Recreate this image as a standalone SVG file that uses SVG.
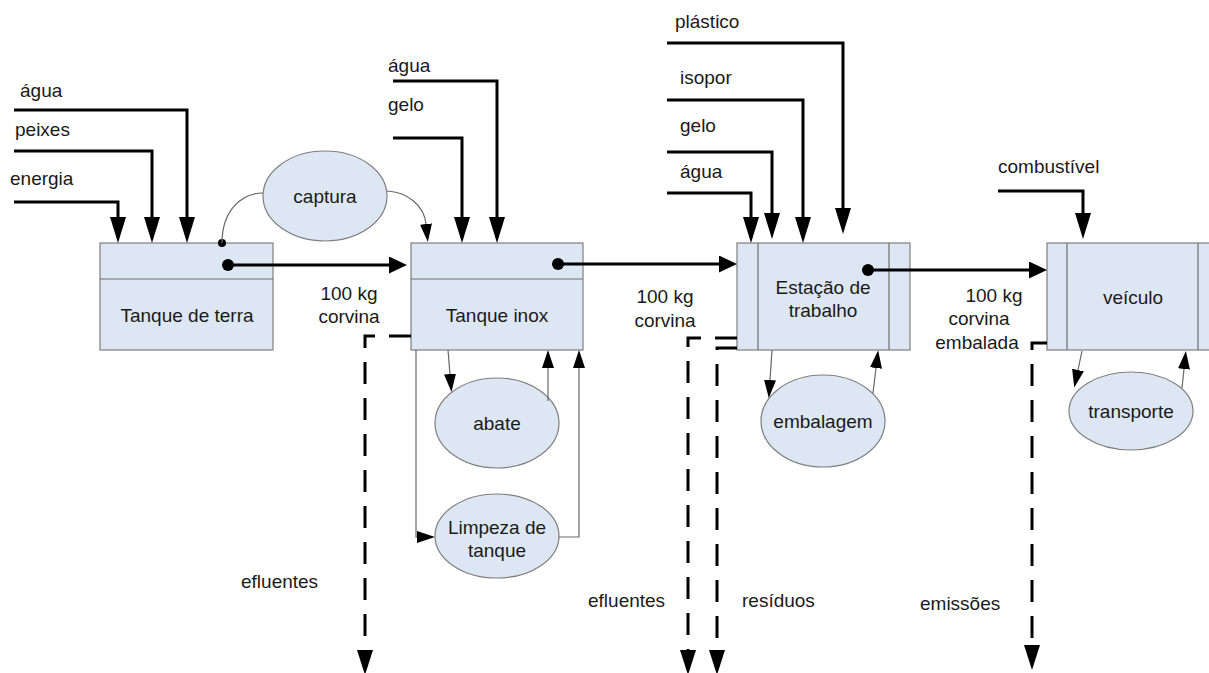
<svg xmlns="http://www.w3.org/2000/svg" width="1209" height="673" viewBox="0 0 1209 673">
  <style>
    text { font-family: "Liberation Sans", Arial, sans-serif; font-size: 19px; fill: #1a1a1a; }
    .c { text-anchor: middle; }
    .box { fill: #dde7f3; stroke: #7f7f7f; stroke-width: 1.2; }
    .div { fill: none; stroke: #6f6f6f; stroke-width: 1.2; }
    .thick { fill: none; stroke: #000; stroke-width: 3; }
    .thin { fill: none; stroke: #666; stroke-width: 1.2; }
    .dash { fill: none; stroke: #000; stroke-width: 3; stroke-dasharray: 22 14; }
    .dot { fill: #000; }
  </style>
  <defs>
    <!-- long head for the vertical input flows -->
    <marker id="inHead" markerUnits="userSpaceOnUse" viewBox="0 0 26 16" markerWidth="26" markerHeight="16" refX="0" refY="8" orient="auto">
      <path d="M0,0 L26,8 L0,16 z" fill="#000"/>
    </marker>
    <!-- head for the main product flow -->
    <marker id="flowHead" markerUnits="userSpaceOnUse" viewBox="0 0 18 17" markerWidth="18" markerHeight="17" refX="0" refY="8.5" orient="auto">
      <path d="M0,0 L18,8.5 L0,17 z" fill="#000"/>
    </marker>
    <!-- small head for the sub-process links -->
    <marker id="thinHead" markerUnits="userSpaceOnUse" viewBox="0 0 18 12" markerWidth="18" markerHeight="12" refX="0" refY="6" orient="auto">
      <path d="M0,0 L18,6 L0,12 z" fill="#000"/>
    </marker>
    <!-- head for the dashed outputs -->
    <marker id="outHead" markerUnits="userSpaceOnUse" viewBox="0 0 25 16" markerWidth="25" markerHeight="16" refX="0" refY="8" orient="auto">
      <path d="M0,0 L25,8 L0,16 z" fill="#000"/>
    </marker>
  </defs>

  <!-- processes -->
  <g id="tanque-terra">
    <rect class="box" x="100" y="243" width="173" height="107"/>
    <line class="div" x1="100" y1="279" x2="273" y2="279"/>
    <text class="c" x="187" y="322">Tanque de terra</text>
  </g>
  <g id="tanque-inox">
    <rect class="box" x="411" y="243" width="172" height="107"/>
    <line class="div" x1="411" y1="279" x2="583" y2="279"/>
    <text class="c" x="497" y="322">Tanque inox</text>
  </g>
  <g id="estacao">
    <rect class="box" x="737" y="243" width="173" height="107"/>
    <line class="div" x1="758" y1="243" x2="758" y2="350"/>
    <line class="div" x1="889" y1="243" x2="889" y2="350"/>
    <text class="c" x="823" y="294">Estação de</text>
    <text class="c" x="823" y="317">trabalho</text>
  </g>
  <g id="veiculo">
    <rect class="box" x="1047" y="243" width="173" height="107"/>
    <line class="div" x1="1067" y1="243" x2="1067" y2="350"/>
    <line class="div" x1="1198" y1="243" x2="1198" y2="350"/>
    <text class="c" x="1133" y="304">veículo</text>
  </g>

  <!-- sub-processes -->
  <g id="captura">
    <ellipse class="box" cx="325" cy="196" rx="62" ry="45"/>
    <text class="c" x="325" y="203">captura</text>
  </g>
  <g id="abate">
    <ellipse class="box" cx="497" cy="423" rx="62" ry="45"/>
    <text class="c" x="497" y="430">abate</text>
  </g>
  <g id="limpeza">
    <ellipse class="box" cx="497" cy="536" rx="62" ry="42"/>
    <text class="c" x="497" y="534">Limpeza de</text>
    <text class="c" x="497" y="557">tanque</text>
  </g>
  <g id="embalagem">
    <ellipse class="box" cx="823" cy="421" rx="62" ry="46"/>
    <text class="c" x="823" y="428">embalagem</text>
  </g>
  <g id="transporte">
    <ellipse class="box" cx="1131" cy="411" rx="62" ry="39"/>
    <text class="c" x="1131" y="418">transporte</text>
  </g>

  <!-- connectors -->
  <g id="connectors">
    <!-- inputs to Tanque de terra -->
    <path class="thick" d="M14,202 H118 V217" marker-end="url(#inHead)"/>
    <path class="thick" d="M14,151 H152 V217" marker-end="url(#inHead)"/>
    <path class="thick" d="M14,110 H187 V217" marker-end="url(#inHead)"/>
    <!-- inputs to Tanque inox -->
    <path class="thick" d="M393,138 H462 V217" marker-end="url(#inHead)"/>
    <path class="thick" d="M393,81 H497 V217" marker-end="url(#inHead)"/>
    <!-- inputs to Estação de trabalho -->
    <path class="thick" d="M667,193 H751 V217" marker-end="url(#inHead)"/>
    <path class="thick" d="M667,152 H772 V213" marker-end="url(#inHead)"/>
    <path class="thick" d="M667,100 H803 V217" marker-end="url(#inHead)"/>
    <path class="thick" d="M667,43 H843 V208" marker-end="url(#inHead)"/>
    <!-- input to veículo -->
    <path class="thick" d="M998,191 H1083 V213" marker-end="url(#inHead)"/>

    <!-- main product flow -->
    <circle class="dot" cx="228" cy="265" r="6"/>
    <path class="thick" d="M228,265 H389" marker-end="url(#flowHead)"/>
    <circle class="dot" cx="558" cy="264" r="6"/>
    <path class="thick" d="M558,264 H719" marker-end="url(#flowHead)"/>
    <circle class="dot" cx="868" cy="270" r="6"/>
    <path class="thick" d="M868,270 H1029" marker-end="url(#flowHead)"/>

    <!-- captura link -->
    <circle class="dot" cx="222" cy="243" r="4"/>
    <path class="thin" d="M263,193 C240,193 222,212 222,243"/>
    <path class="thin" d="M387,191 C407,192 424,205 426,224" marker-end="url(#thinHead)"/>

    <!-- Tanque inox loops -->
    <path class="thin" d="M448,350 L450,374" marker-end="url(#thinHead)"/>
    <path class="thin" d="M548,401 V368" marker-end="url(#thinHead)"/>
    <path class="thin" d="M416,350 V537 H417" marker-end="url(#thinHead)"/>
    <path class="thin" d="M559,537 H579 V368" marker-end="url(#thinHead)"/>

    <!-- Estação loop -->
    <path class="thin" d="M772,350 L770,380" marker-end="url(#thinHead)"/>
    <path class="thin" d="M873,393 L876,368" marker-end="url(#thinHead)"/>

    <!-- veículo loop -->
    <path class="thin" d="M1082,351 L1078,370" marker-end="url(#thinHead)"/>
    <path class="thin" d="M1182,388 L1184,369" marker-end="url(#thinHead)"/>

    <!-- dashed outputs -->
    <path class="dash" d="M411,336 H365 V650" marker-end="url(#outHead)"/>
    <path class="dash" d="M737,338 H688 V650" marker-end="url(#outHead)"/>
    <path class="dash" d="M737,348 H717 V650" marker-end="url(#outHead)"/>
    <path class="dash" d="M1047,343 H1032 V645" marker-end="url(#outHead)"/>
  </g>

  <!-- flow labels -->
  <g id="labels">
    <text x="20" y="97">água</text>
    <text x="15" y="136">peixes</text>
    <text x="10" y="185">energia</text>
    <text x="388" y="72">água</text>
    <text x="388" y="111">gelo</text>
    <text x="675" y="28">plástico</text>
    <text x="680" y="84">isopor</text>
    <text x="680" y="132">gelo</text>
    <text x="680" y="178">água</text>
    <text x="998" y="173">combustível</text>

    <text class="c" x="349" y="300">100 kg</text>
    <text class="c" x="349" y="323">corvina</text>
    <text class="c" x="665" y="303">100 kg</text>
    <text class="c" x="665" y="327">corvina</text>
    <text class="c" x="994" y="302">100 kg</text>
    <text class="c" x="979" y="325">corvina</text>
    <text class="c" x="977" y="349">embalada</text>

    <text x="241" y="588">efluentes</text>
    <text x="588" y="607">efluentes</text>
    <text x="742" y="607">resíduos</text>
    <text x="920" y="610">emissões</text>
  </g>
</svg>
